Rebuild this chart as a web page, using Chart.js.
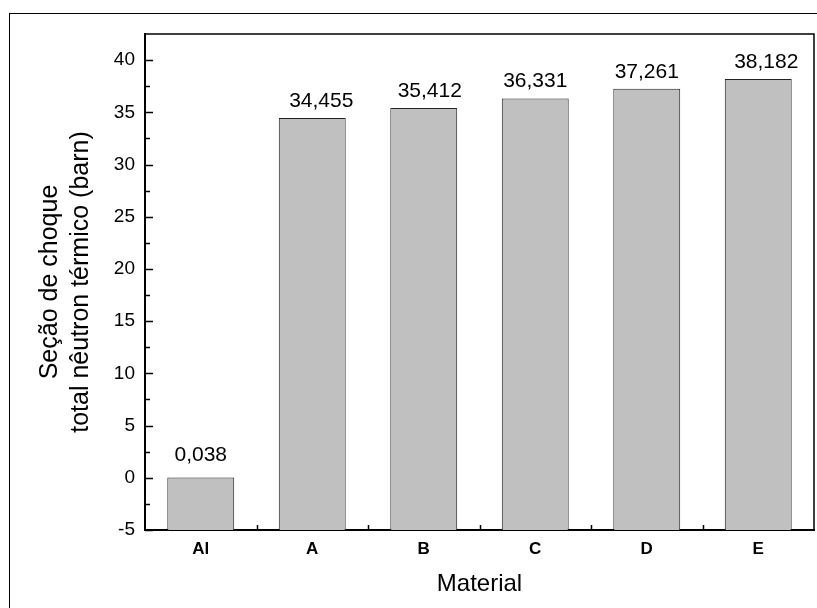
<!DOCTYPE html>
<html>
<head>
<meta charset="utf-8">
<script src="https://cdn.jsdelivr.net/npm/chart.js@4.4.1/dist/chart.umd.min.js"></script>
<style>
  html, body { margin: 0; padding: 0; background: #fff; overflow: hidden; }
  #wrap { position: relative; width: 817px; height: 608px; }
  #frame { position: absolute; left: 9px; top: 13px; width: 900px; height: 700px;
           border: 1.5px solid #000; box-sizing: border-box; }
  canvas { position: absolute; left: 0; top: 0; }
</style>
</head>
<body>
<div id="wrap">
  <div id="frame"></div>
  <canvas id="chart" width="817" height="608"></canvas>
</div>
<script>
// data
const materials = ['Al', 'A', 'B', 'C', 'D', 'E'];
const crossSection = [0.038, 34.455, 35.412, 36.331, 37.261, 38.182];
const yTitleLines = ['Seção de choque', 'total nêutron térmico (barn)'];
const xTitle = 'Material';

// label nudges as placed in the original figure (px)
const labelShift = [0, 9, 6, 0, 0, 8];

const FONT = '"Liberation Sans", Arial, sans-serif';

// ticks inside the box, box lines, value labels, axis titles
const decorations = {
  id: 'decorations',
  afterDraw(c) {
    const ctx = c.ctx;
    const a = c.chartArea;
    const ys = c.scales.y, xs = c.scales.x;
    ctx.save();
    ctx.strokeStyle = '#000';

    // top + right box lines
    ctx.lineWidth = 1.5;
    ctx.beginPath();
    ctx.moveTo(a.left, a.top); ctx.lineTo(a.right, a.top); ctx.lineTo(a.right, a.bottom);
    ctx.stroke();

    // y ticks, major every 5, minor every 2.5
    for (let v = -5; v <= 40; v += 2.5) {
      const py = Math.round(ys.getPixelForValue(v)) + 0.5;
      const len = (v % 5 === 0) ? 8 : 5;
      ctx.beginPath();
      ctx.moveTo(a.left, py); ctx.lineTo(a.left + len, py);
      ctx.stroke();
    }
    // x ticks between categories
    for (let i = 0; i < materials.length - 1; i++) {
      const px = Math.round((xs.getPixelForValue(i) + xs.getPixelForValue(i + 1)) / 2) + 0.5;
      ctx.beginPath();
      ctx.moveTo(px, a.bottom); ctx.lineTo(px, a.bottom - 5);
      ctx.stroke();
    }

    // value labels
    ctx.fillStyle = '#000';
    ctx.font = '21px ' + FONT;
    ctx.textAlign = 'center';
    ctx.textBaseline = 'alphabetic';
    const meta = c.getDatasetMeta(0);
    meta.data.forEach((bar, i) => {
      const txt = crossSection[i].toFixed(3).replace('.', ',');
      const gap = i === 0 ? 16 : 11;
      ctx.fillText(txt, bar.x + labelShift[i], bar.y - gap);
    });

    // x title
    ctx.font = '24px ' + FONT;
    ctx.textBaseline = 'middle';
    ctx.fillText(xTitle, (a.left + a.right) / 2, 584);

    // y title (two lines)
    ctx.save();
    ctx.translate(0, (a.top + a.bottom) / 2);
    ctx.rotate(-Math.PI / 2);
    ctx.font = '25px ' + FONT;
    ctx.fillText(yTitleLines[0], 0, 50);
    ctx.fillText(yTitleLines[1], 0, 81);
    ctx.restore();

    ctx.restore();
  }
};

new Chart(document.getElementById('chart'), {
  type: 'bar',
  data: {
    labels: materials,
    datasets: [{
      data: crossSection,
      base: -5,
      backgroundColor: '#c0c0c0',
      borderColor: '#222',
      borderWidth: 1,
      categoryPercentage: 1.0,
      barPercentage: 0.6
    }]
  },
  options: {
    responsive: false,
    devicePixelRatio: 1,
    animation: false,
    layout: { padding: { left: 0, top: 34, right: 3, bottom: 0 } },
    plugins: { legend: { display: false }, tooltip: { enabled: false } },
    scales: {
      x: {
        grid: { display: false, drawTicks: false },
        border: { display: true, color: '#000', width: 2 },
        ticks: { color: '#000', padding: 9, font: { family: FONT, size: 17, weight: 'bold' } },
        afterFit(s) { s.height = 78; }
      },
      y: {
        min: -5,
        max: 42.5,
        grid: { display: false, drawTicks: false },
        border: { display: true, color: '#000', width: 2 },
        ticks: { stepSize: 5, color: '#000', padding: 10, font: { family: FONT, size: 19 } },
        afterBuildTicks(s) { s.ticks = s.ticks.filter(t => t.value % 5 === 0); },
        afterFit(s) { s.width = 145; }
      }
    }
  },
  plugins: [decorations]
});
</script>
</body>
</html>
